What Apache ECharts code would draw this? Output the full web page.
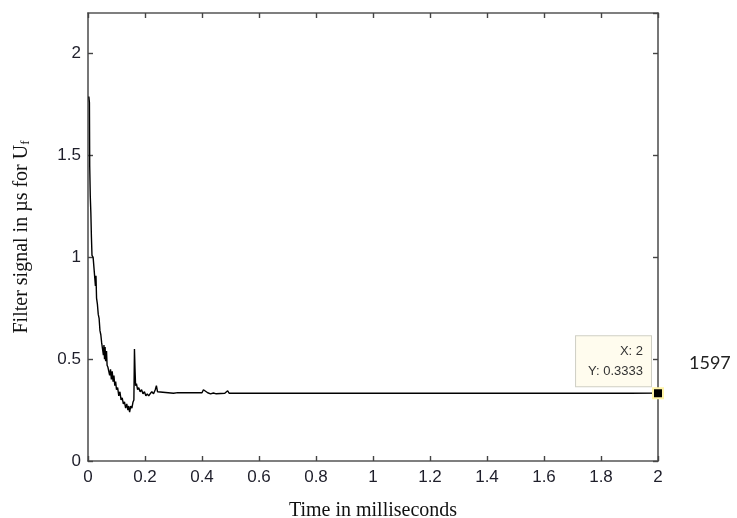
<!DOCTYPE html>
<html>
<head>
<meta charset="utf-8">
<script src="https://cdn.jsdelivr.net/npm/echarts@6/dist/echarts.min.js"></script>
<style>
  html, body { margin: 0; padding: 0; background: #ffffff; }
  #chart { width: 737px; height: 518px; }
</style>
</head>
<body>
<div id="chart"></div>
<script>
// ---- data ----
const times = [
  0.003, 0.005, 0.006, 0.008, 0.010, 0.012, 0.014, 0.018, 0.024, 0.026,
  0.028, 0.030, 0.033, 0.036, 0.039, 0.042, 0.045, 0.048, 0.051, 0.054,
  0.056, 0.058, 0.060, 0.062, 0.065, 0.067, 0.070, 0.073, 0.076, 0.079,
  0.082, 0.085, 0.088, 0.091, 0.094, 0.097, 0.100, 0.104, 0.108, 0.112,
  0.116, 0.120, 0.124, 0.128, 0.132, 0.136, 0.140, 0.143, 0.146, 0.150,
  0.154, 0.158, 0.161, 0.163, 0.165, 0.167, 0.170, 0.174, 0.178, 0.183,
  0.188, 0.193, 0.198, 0.203, 0.208, 0.213, 0.218, 0.224, 0.230, 0.236,
  0.240, 0.244, 0.250, 0.300, 0.315, 0.318, 0.322, 0.400, 0.405, 0.410,
  0.420, 0.430, 0.440, 0.450, 0.480, 0.490, 0.495, 0.590, 0.595, 0.600,
  0.770, 0.775, 0.780, 0.850, 0.855, 0.860, 1.090, 1.095, 1.100, 1.165,
  1.170, 1.175, 1.490, 1.495, 1.500, 1.730, 1.735, 1.740, 1.810, 1.815,
  1.820, 1.890, 1.895, 1.900, 2.000
];
const values = [
  1.79, 1.76, 1.45, 1.30, 1.22, 1.10, 1.01, 1.00, 1.00, 0.86,
  0.91, 0.80, 0.77, 0.72, 0.70, 0.64, 0.62, 0.58, 0.55, 0.52,
  0.57, 0.50, 0.56, 0.49, 0.54, 0.47, 0.46, 0.44, 0.42, 0.45,
  0.40, 0.44, 0.39, 0.42, 0.37, 0.39, 0.35, 0.36, 0.32, 0.34,
  0.30, 0.31, 0.28, 0.29, 0.26, 0.28, 0.25, 0.27, 0.24, 0.27,
  0.26, 0.29, 0.30, 0.55, 0.45, 0.37, 0.38, 0.35, 0.36, 0.34,
  0.35, 0.33, 0.34, 0.32, 0.33, 0.32, 0.33, 0.34, 0.33, 0.35,
  0.37, 0.34, 0.333, 0.333, 0.336, 0.345, 0.333, 0.335, 0.350, 0.345,
  0.335, 0.330, 0.334, 0.330, 0.333, 0.345, 0.333, 0.333, 0.338, 0.333,
  0.333, 0.338, 0.333, 0.333, 0.338, 0.333, 0.333, 0.337, 0.333, 0.333,
  0.337, 0.333, 0.333, 0.340, 0.333, 0.333, 0.340, 0.333, 0.333, 0.338,
  0.333, 0.333, 0.337, 0.333, 0.3333
];
const datatip = [2, 0.3333];
const xTicks = { min: 0, max: 2, interval: 0.2 };
const yTicks = { min: 0, max: 2.2, interval: 0.5 };
const sideNote = '1597';

// ---- chart ----
const seriesData = times.map((t, i) => [t, values[i]]);
const chart = echarts.init(document.getElementById('chart'), null, { renderer: 'canvas' });

const axisLineStyle = { color: '#555555', width: 1.6 };
const tickStyle = { color: '#444444', width: 1.4 };
const labelFont = { fontFamily: 'Liberation Sans, Arial, sans-serif', fontSize: 17, color: '#1e1e2a' };

chart.setOption({
  animation: false,
  backgroundColor: '#ffffff',
  grid: { left: 88, right: 79, top: 13, bottom: 57, outerBoundsMode: 'none' },
  xAxis: [
    {
      type: 'value', min: xTicks.min, max: xTicks.max, interval: xTicks.interval,
      name: 'Time in milliseconds', nameLocation: 'middle', nameGap: 40,
      nameTextStyle: { fontFamily: 'Liberation Serif, Times New Roman, serif', fontSize: 20, color: '#111' },
      axisLine: { show: true, onZero: false, lineStyle: axisLineStyle },
      axisTick: { show: true, inside: true, length: 5, lineStyle: tickStyle },
      axisLabel: Object.assign({ margin: 8, formatter: v => String(+v.toFixed(1)) }, labelFont),
      splitLine: { show: false }
    },
    {
      type: 'value', position: 'top', min: xTicks.min, max: xTicks.max, interval: xTicks.interval,
      axisLine: { show: true, onZero: false, lineStyle: axisLineStyle },
      axisTick: { show: true, inside: true, length: 5, lineStyle: tickStyle },
      axisLabel: { show: false }, splitLine: { show: false }
    }
  ],
  yAxis: [
    {
      type: 'value', min: yTicks.min, max: yTicks.max, interval: yTicks.interval,
      name: 'Filter signal in µs for U{sub|f}', nameLocation: 'middle', nameGap: 56,
      nameTextStyle: {
        fontFamily: 'Liberation Serif, Times New Roman, serif', fontSize: 20, color: '#111',
        rich: { sub: { fontFamily: 'Liberation Serif, Times New Roman, serif', fontSize: 13, color: '#111', padding: [8, 0, 0, 0] } }
      },
      axisLine: { show: true, onZero: false, lineStyle: axisLineStyle },
      axisTick: { show: true, inside: true, length: 5, lineStyle: tickStyle },
      axisLabel: Object.assign({ margin: 7, showMaxLabel: false, formatter: v => String(+v.toFixed(1)) }, labelFont),
      splitLine: { show: false }
    },
    {
      type: 'value', position: 'right', min: yTicks.min, max: yTicks.max, interval: yTicks.interval,
      axisLine: { show: true, onZero: false, lineStyle: axisLineStyle },
      axisTick: { show: true, inside: true, length: 5, lineStyle: tickStyle },
      axisLabel: { show: false }, splitLine: { show: false }
    }
  ],
  series: [
    {
      type: 'line',
      data: seriesData,
      xAxisIndex: 0, yAxisIndex: 0,
      showSymbol: false, symbol: 'none',
      lineStyle: { color: '#000000', width: 1.4 },
      clip: true,
      markPoint: {
        symbol: 'rect', symbolSize: 10,
        itemStyle: { color: '#000000', borderColor: '#fff4a8', borderWidth: 2 },
        label: {
          show: true,
          position: [-1, -1],
          align: 'right', verticalAlign: 'bottom',
          formatter: 'X: ' + datatip[0] + '\nY: ' + datatip[1].toFixed(4),
          fontFamily: 'Liberation Sans, Arial, sans-serif', fontSize: 13, color: '#333',
          lineHeight: 20,
          backgroundColor: '#fffcee', borderColor: '#cfcfc4', borderWidth: 1,
          padding: [5, 8, 5, 12]
        },
        data: [{ coord: datatip }]
      }
    }
  ],
  graphic: [
    {
      type: 'text', left: 689, top: 354,
      style: { text: sideNote, font: '18px Lato, "Open Sans", sans-serif', fill: '#222' }
    }
  ]
});
</script>
</body>
</html>
